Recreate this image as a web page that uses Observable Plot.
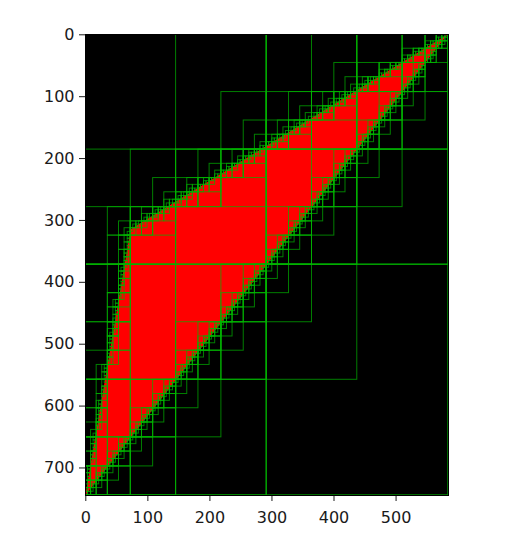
<!DOCTYPE html>
<html>
<head>
<meta charset="utf-8">
<script src="https://cdn.jsdelivr.net/npm/d3@7"></script>
<script src="https://cdn.jsdelivr.net/npm/@observablehq/plot@0.6"></script>
<style>
  html, body { margin: 0; padding: 0; background: #fff; }
  #chart svg { display: block; }
</style>
</head>
<body>
<div id="chart"></div>
<script>
// Image size (pixels) of the shown picture
const imgW = 585;
const imgH = 745;
// Red polygon vertices (image coordinates, y down)
const polyX = [0, 73, 584];
const polyY = [745, 315, 0];
// Axis tick values
const xTicks = [0, 100, 200, 300, 400, 500];
const yTicks = [0, 100, 200, 300, 400, 500, 600, 700];
// Quadtree subdivision depth
const maxDepth = 7;

// rasterise polygon onto the pixel grid
function inside(px, py) {
  let c = false;
  for (let i = 0, j = polyX.length - 1; i < polyX.length; j = i++) {
    const xi = polyX[i], yi = polyY[i], xj = polyX[j], yj = polyY[j];
    if ((yi > py) !== (yj > py) && px < (xj - xi) * (py - yi) / (yj - yi) + xi) c = !c;
  }
  return c;
}
const S = new Int32Array((imgW + 1) * (imgH + 1));
for (let j = 0; j < imgH; j++) {
  let row = 0;
  for (let i = 0; i < imgW; i++) {
    row += inside(i, j) ? 1 : 0;
    S[(j + 1) * (imgW + 1) + (i + 1)] = S[j * (imgW + 1) + (i + 1)] + row;
  }
}
function count(x0, y0, x1, y1) {
  const w = imgW + 1;
  return S[y1 * w + x1] - S[y0 * w + x1] - S[y1 * w + x0] + S[y0 * w + x0];
}
// quadtree: keep only nodes that contain both colours
const cells = [];
function split(x0, y0, x1, y1, depth) {
  const c = count(x0, y0, x1, y1);
  const area = (x1 - x0) * (y1 - y0);
  if (c === 0 || c === area) return;
  cells.push({x1: x0 - 0.5, x2: x1 - 0.5, y1: y0 - 0.5, y2: y1 - 0.5});
  if (depth >= maxDepth || x1 - x0 < 2 || y1 - y0 < 2) return;
  const mx = x0 + ((x1 - x0) >> 1), my = y0 + ((y1 - y0) >> 1);
  split(x0, y0, mx, my, depth + 1);
  split(mx, y0, x1, my, depth + 1);
  split(x0, my, mx, y1, depth + 1);
  split(mx, my, x1, y1, depth + 1);
}
split(0, 0, imgW, imgH, 0);

const tri = [
  {x1: polyX[0], y1: polyY[0], x2: polyX[0], y2: polyY[0]},
  {x1: polyX[1], y1: polyY[1], x2: polyX[2], y2: polyY[2]}
];

const chart = Plot.plot({
  width: 531,
  height: 547,
  marginLeft: 85,
  marginRight: 83,
  marginTop: 34,
  marginBottom: 52,
  style: {fontFamily: "DejaVu Sans", fontSize: "16px", color: "#1a1a1a", background: "white"},
  x: {domain: [-0.5, imgW - 0.5], ticks: xTicks, tickSize: 6, tickPadding: 10, label: null},
  y: {domain: [-0.5, imgH - 0.5], reverse: true, ticks: yTicks, tickSize: 6, tickPadding: 5, label: null},
  marks: [
    Plot.frame({fill: "black"}),
    Plot.area(tri, {x1: "x1", y1: "y1", x2: "x2", y2: "y2", fill: "red"}),
    Plot.rect(cells, {x1: "x1", x2: "x2", y1: "y1", y2: "y2", fill: "none", stroke: "#00b400", strokeWidth: 1, strokeOpacity: 0.7, clip: true}),
    Plot.frame({stroke: "black", strokeWidth: 1})
  ]
});
document.getElementById("chart").appendChild(chart);
</script>
</body>
</html>
